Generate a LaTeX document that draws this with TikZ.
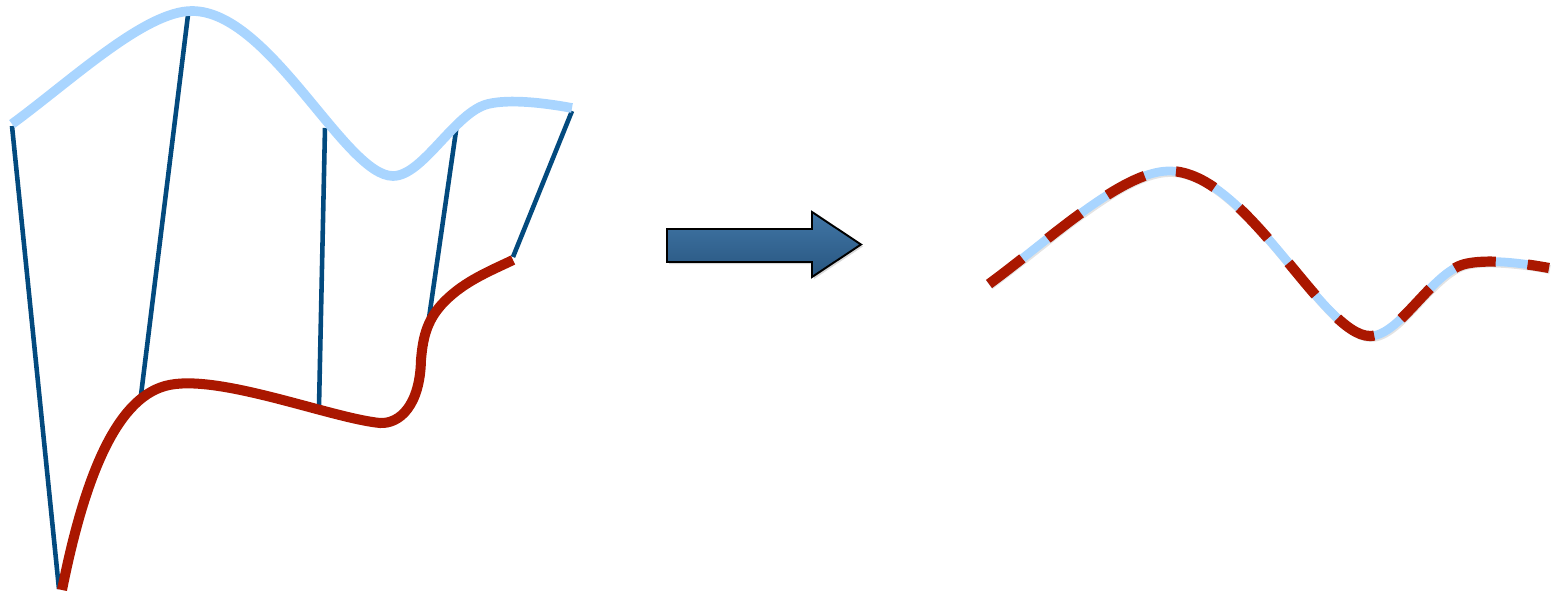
\documentclass[tikz,border=0pt]{standalone}
\definecolor{lightb}{HTML}{A9D5FF}
\definecolor{redc}{HTML}{AA1700}
\definecolor{darkb}{HTML}{034A7E}
\definecolor{arrtop}{HTML}{4176A6}
\definecolor{arrbot}{HTML}{285680}
\begin{document}
\begin{tikzpicture}[x=0.01cm,y=-0.01cm,
  topcurve/.style={draw=lightb,line width=2.75pt},
  botcurve/.style={draw=redc,line width=2.85pt},
  ruling/.style={draw=darkb,line width=1.3pt},
  dashcurve/.style={draw=redc,line width=2.9pt,dash pattern=on 11.95pt off 9.1pt},
  basecurve/.style={draw=lightb,line width=2.5pt},
  shadowcurve/.style={draw=black!22,line width=2.5pt,opacity=0.5},
  arrowbox/.style={top color=arrtop,bottom color=arrbot,draw=black,line width=0.55pt,line join=miter},
  wave/.pic={\path[pic actions] (12,124) .. controls (72,80) and (145,11) .. (192,11)
      .. controls (270,11) and (345,176) .. (393,176)
      .. controls (423,176) and (455,112) .. (488,104)
      .. controls (510,98.7) and (545,103) .. (572,108);}
]
\useasboundingbox (0,0) rectangle (1556,597);

% rulings
\coordinate (t1) at (12,126);  \coordinate (b1) at (59,589);
\coordinate (t2) at (188,15);  \coordinate (b2) at (141,395);
\coordinate (t3) at (325,128); \coordinate (b3) at (319,407);
\coordinate (t4) at (457,124); \coordinate (b4) at (429,318);
\coordinate (t5) at (572,111); \coordinate (b5) at (513,257);
\foreach \i in {1,...,5} \draw[ruling] (t\i) -- (b\i);

% top curve
\pic[topcurve] at (0,0) {wave};

% bottom curve
\draw[botcurve] (62,590) .. controls (84,480) and (115,400) .. (165,386)
  .. controls (215,372) and (330,418) .. (380,423)
  .. controls (400,424) and (420,405) .. (421,360)
  .. controls (423,335) and (428,318) .. (445,301)
  .. controls (465,281) and (490,271) .. (513,260);

% arrow
\fill[black!15] (669,231) -- (814,231) -- (814,214) -- (863,246.5) -- (814,279) -- (814,264) -- (669,264) -- cycle;
\path[arrowbox] (667,229) -- (812,229) -- (812,212) -- (861,244.5) -- (812,277) -- (812,262) -- (667,262) -- cycle;

% right curve
\pic[shadowcurve] at (978,161.5) {wave};
\pic[basecurve] at (977,160) {wave};
\pic[dashcurve] at (977,160) {wave};
\end{tikzpicture}
\end{document}
